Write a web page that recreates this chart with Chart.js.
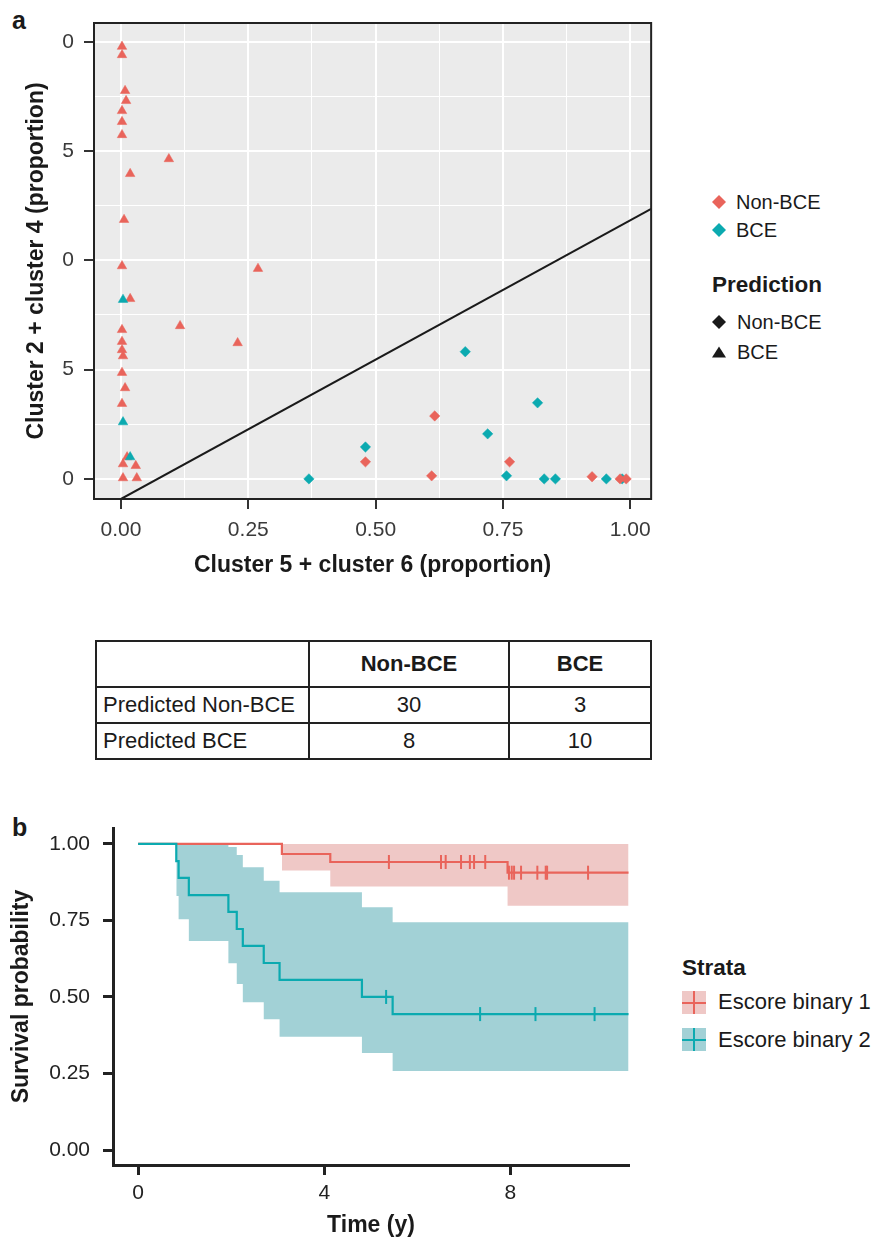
<!DOCTYPE html>
<html>
<head>
<meta charset="utf-8">
<script src="https://cdn.jsdelivr.net/npm/chart.js@4.4.1/dist/chart.umd.min.js"></script>
<style>
  body { margin: 0; background: #fff; font-family: "Liberation Sans", Arial, sans-serif; color: #1a1a1a; }
  #page { position: relative; width: 879px; height: 1239px; overflow: hidden; }
  .abs { position: absolute; white-space: nowrap; }
  .mid { transform: translateY(-50%); }
  .lab { font-size: 20px; }
  .ttl { font-size: 22.5px; font-weight: bold; }
  .panel { font-size: 25px; font-weight: bold; line-height: 25px; }
  #tbl { border-collapse: collapse; font-size: 22px; color: #1a1a1a; }
  #tbl td, #tbl th { border: 2px solid #222; padding: 0; }
  #tbl th { font-weight: bold; text-align: center; }
  .key { width: 24px; height: 23px; }
  .key .h { position: absolute; left: 0; right: 0; top: 10.5px; height: 2px; }
  .key .v { position: absolute; top: 0; bottom: 0; left: 11px; width: 2px; }
</style>
</head>
<body>
<div id="page">
  <div class="abs panel" style="left:12px;top:8px">a</div>
  <div class="abs" style="left:0;top:0"><canvas id="chartA" width="660" height="600"></canvas></div>

  <svg class="abs" style="left:711px;top:194px" width="16" height="16"><polygon points="8,1 15,8 8,15 1,8" fill="#E9645B"/></svg>
  <div class="abs lab mid" style="left:736px;top:202px">Non-BCE</div>
  <svg class="abs" style="left:711px;top:222px" width="16" height="16"><polygon points="8,1 15,8 8,15 1,8" fill="#0BAAB0"/></svg>
  <div class="abs lab mid" style="left:736px;top:230px">BCE</div>
  <div class="abs ttl mid" style="left:712px;top:285px">Prediction</div>
  <svg class="abs" style="left:711px;top:314px" width="16" height="16"><polygon points="8,1 15,8 8,15 1,8" fill="#1a1a1a"/></svg>
  <div class="abs lab mid" style="left:737px;top:322px">Non-BCE</div>
  <svg class="abs" style="left:711px;top:344px" width="16" height="16"><polygon points="8,2.5 15,13.5 1,13.5" fill="#1a1a1a"/></svg>
  <div class="abs lab mid" style="left:737px;top:352px">BCE</div>

  <table id="tbl" class="abs" style="left:95px;top:640px"></table>

  <div class="abs panel" style="left:12px;top:815px">b</div>
  <div class="abs" style="left:0;top:800px"><canvas id="chartB" width="660" height="439"></canvas></div>

  <div class="abs ttl mid" style="left:682px;top:968px">Strata</div>
  <div class="abs key" style="left:682px;top:991px;background:#EFC8C6"><div class="h" style="background:#E9645B"></div><div class="v" style="background:#E9645B"></div></div>
  <div class="abs mid" style="left:718px;top:1002px;font-size:22px">Escore binary 1</div>
  <div class="abs key" style="left:682px;top:1028px;background:#A2D1D6"><div class="h" style="background:#0BAAB0"></div><div class="v" style="background:#0BAAB0"></div></div>
  <div class="abs mid" style="left:718px;top:1040px;font-size:22px">Escore binary 2</div>
</div>

<script>
// ---- panel a: scatter ----
const xMajorA = [0, 0.25, 0.5, 0.75, 1];
const xLabelsA = ['0.00', '0.25', '0.50', '0.75', '1.00'];
const xMinorA = [0.125, 0.375, 0.625, 0.875];
const yMajorA = [0, 0.25, 0.5, 0.75, 1];
const yLabelsA = ['0', '5', '0', '5', '0'];
const yMinorA = [0.125, 0.375, 0.625, 0.875];

// triangles = predicted BCE, diamonds = predicted Non-BCE
const redTriX = [0.002, 0.002, 0.008, 0.010, 0.002, 0.002, 0.002, 0.094, 0.018, 0.006, 0.002, 0.269, 0.018, 0.116, 0.229, 0.002, 0.002, 0.002, 0.004, 0.002, 0.008, 0.002, 0.012, 0.004, 0.029, 0.004, 0.031];
const redTriY = [0.989, 0.970, 0.888, 0.865, 0.842, 0.817, 0.787, 0.732, 0.698, 0.593, 0.487, 0.481, 0.412, 0.350, 0.311, 0.341, 0.314, 0.295, 0.281, 0.243, 0.208, 0.172, 0.050, 0.034, 0.030, 0.002, 0.002];
const tealTriX = [0.004, 0.004, 0.018];
const tealTriY = [0.410, 0.130, 0.050];
const redDiaX = [0.480, 0.616, 0.610, 0.763, 0.925, 0.980, 0.992];
const redDiaY = [0.039, 0.144, 0.007, 0.039, 0.005, 0.000, 0.000];
const tealDiaX = [0.369, 0.480, 0.676, 0.720, 0.818, 0.757, 0.831, 0.853, 0.953, 0.984];
const tealDiaY = [0.000, 0.073, 0.291, 0.103, 0.174, 0.007, 0.000, 0.000, 0.000, 0.000];
const cutLineX = [0, 1.041];
const cutLineY = [-0.046, 0.618];

// ---- table ----
const tableCols = ['Non-BCE', 'BCE'];
const tableRows = ['Predicted Non-BCE', 'Predicted BCE'];
const tableValues = [[30, 3], [8, 10]];

// ---- panel b: survival ----
const tealTimes = [0, 0.82, 0.87, 1.09, 1.94, 2.12, 2.25, 2.70, 3.04, 4.81, 5.47, 10.54];
const tealSurv = [1, 0.944, 0.889, 0.833, 0.778, 0.722, 0.667, 0.611, 0.556, 0.5, 0.444, 0.444];
const tealBandTimes = [0.82, 0.87, 1.09, 1.94, 2.12, 2.25, 2.70, 3.04, 4.81, 5.47, 10.54];
const tealUpper = [1, 1, 1, 0.99, 0.964, 0.924, 0.88, 0.842, 0.793, 0.744, 0.744];
const tealLower = [0.83, 0.754, 0.683, 0.61, 0.542, 0.483, 0.427, 0.37, 0.317, 0.258, 0.258];
const tealCensor = [5.33, 7.35, 8.54, 9.81];

const redTimes = [0, 3.09, 4.13, 7.94, 10.54];
const redSurv = [1, 0.967, 0.941, 0.906, 0.906];
const redBandTimes = [3.09, 4.13, 7.94, 10.54];
const redUpper = [1, 1, 1, 1];
const redLower = [0.913, 0.861, 0.798, 0.798];
const redCensor = [5.39, 6.51, 6.61, 6.94, 7.13, 7.22, 7.46, 7.97, 8.03, 8.08, 8.23, 8.58, 8.76, 8.79, 9.67];

const yTicksB = [0, 0.25, 0.5, 0.75, 1];
const yLabelsB = ['0.00', '0.25', '0.50', '0.75', '1.00'];
const xTicksB = [0, 4, 8];
const xLabelsB = ['0', '4', '8'];

const RED = '#E9645B', TEAL = '#0BAAB0';
const RED_BAND = '#EFC8C6', TEAL_BAND = '#A2D1D6';

Chart.defaults.font.family = '"Liberation Sans", Arial, sans-serif';
Chart.defaults.animation = false;

function pts(xs, ys) { return xs.map((x, i) => ({ x: x, y: ys[i] })); }
function survAt(times, surv, t) {
  let s = surv[0];
  for (let i = 0; i < times.length; i++) if (times[i] <= t) s = surv[i];
  return s;
}
function setTicks(major, minor) {
  return function(scale) {
    scale.ticks = major.concat(minor).sort((a, b) => a - b)
      .map(v => ({ value: v, isMajor: major.includes(v) }));
  };
}
function tickLabel(major, labels) {
  return function(value) {
    const i = major.indexOf(value);
    return i >= 0 ? labels[i] : '';
  };
}

// table from arrays
(function() {
  const t = document.getElementById('tbl');
  let h = '<tr style="height:46px"><td style="width:211px"></td>';
  tableCols.forEach((c, i) => { h += '<th style="width:' + (i === 0 ? 198 : 140) + 'px">' + c + '</th>'; });
  h += '</tr>';
  tableRows.forEach((r, i) => {
    h += '<tr style="height:36px"><td style="padding-left:6px">' + r + '</td>';
    tableValues[i].forEach(v => { h += '<td style="text-align:center">' + v + '</td>'; });
    h += '</tr>';
  });
  t.innerHTML = h;
})();

const panelBg = {
  id: 'panelBg',
  beforeDraw(chart) {
    const a = chart.chartArea, ctx = chart.ctx;
    ctx.save();
    ctx.fillStyle = '#EBEBEB';
    ctx.fillRect(a.left, a.top, a.right - a.left, a.bottom - a.top);
    ctx.restore();
  },
  afterDraw(chart) {
    const a = chart.chartArea, ctx = chart.ctx;
    ctx.save();
    ctx.strokeStyle = '#222';
    ctx.lineWidth = 2;
    ctx.strokeRect(a.left, a.top, a.right - a.left, a.bottom - a.top);
    ctx.restore();
  }
};

function gridA() {
  return {
    color: '#ffffff',
    lineWidth: c => (c.tick && c.tick.isMajor ? 2 : 1),
    drawTicks: true,
    tickLength: 10,
    tickWidth: 2,
    tickColor: c => (c.tick && c.tick.isMajor ? '#333' : 'rgba(0,0,0,0)')
  };
}

new Chart(document.getElementById('chartA'), {
  type: 'scatter',
  data: {
    datasets: [
      { data: pts(cutLineX, cutLineY), showLine: true, borderColor: '#1a1a1a', borderWidth: 2, pointRadius: 0, order: 5 },
      { data: pts(redTriX, redTriY), pointStyle: 'triangle', pointRadius: 5.5, backgroundColor: RED, borderColor: RED, borderWidth: 0.5, order: 4 },
      { data: pts(tealTriX, tealTriY), pointStyle: 'triangle', pointRadius: 5.5, backgroundColor: TEAL, borderColor: TEAL, borderWidth: 0.5, order: 3 },
      { data: pts(tealDiaX, tealDiaY), pointStyle: 'rectRot', pointRadius: 5.2, backgroundColor: TEAL, borderColor: TEAL, borderWidth: 0.5, order: 2 },
      { data: pts(redDiaX, redDiaY), pointStyle: 'rectRot', pointRadius: 5.2, backgroundColor: RED, borderColor: RED, borderWidth: 0.5, order: 1 }
    ]
  },
  options: {
    responsive: false,
    layout: { padding: { top: 23, right: 8, left: 0, bottom: 0 } },
    plugins: { legend: { display: false }, tooltip: { enabled: false } },
    scales: {
      x: {
        type: 'linear', min: -0.053, max: 1.041,
        afterBuildTicks: setTicks(xMajorA, xMinorA),
        afterFit: s => { s.height = 101; },
        grid: gridA(),
        border: { display: false },
        ticks: { callback: tickLabel(xMajorA, xLabelsA), autoSkip: false, maxRotation: 0, padding: 9, color: '#3a3a3a', font: { size: 21 } },
        title: { display: true, text: 'Cluster 5 + cluster 6 (proportion)', color: '#1a1a1a', font: { size: 23, weight: 'bold' }, padding: { bottom: 21, top: 0 } }
      },
      y: {
        type: 'linear', min: -0.046, max: 1.043,
        afterBuildTicks: setTicks(yMajorA, yMinorA),
        afterFit: s => { s.width = 94; },
        grid: gridA(),
        border: { display: false },
        ticks: { callback: tickLabel(yMajorA, yLabelsA), autoSkip: false, padding: 10, color: '#3a3a3a', font: { size: 21 } },
        title: { display: true, text: 'Cluster 2 + cluster 4 (proportion)', color: '#1a1a1a', font: { size: 23, weight: 'bold' }, padding: { top: 23, bottom: 0 } }
      }
    }
  },
  plugins: [panelBg]
});

function band(times, vals, color, fill, order) {
  return { data: pts(times, vals), stepped: 'before', fill: fill, backgroundColor: color, borderColor: 'rgba(0,0,0,0)', borderWidth: 0, pointRadius: 0, order: order };
}
function curve(times, surv, color, order) {
  return { data: pts(times, surv), stepped: 'before', fill: false, borderColor: color, borderWidth: 2.2, pointRadius: 0, order: order };
}
function censor(cts, times, surv, color) {
  return { data: cts.map(t => ({ x: t, y: survAt(times, surv, t) })), showLine: false, pointStyle: 'line', rotation: 90, pointRadius: 7, borderColor: color, borderWidth: 2, order: 0 };
}

const axisB = { display: true, color: '#222', width: 3 };
const gridB = { drawOnChartArea: false, drawTicks: true, tickLength: 10, tickWidth: 3, tickColor: '#222' };

new Chart(document.getElementById('chartB'), {
  type: 'line',
  data: {
    datasets: [
      band(tealBandTimes, tealUpper, TEAL_BAND, '+1', 4),
      band(tealBandTimes, tealLower, TEAL_BAND, false, 4),
      band(redBandTimes, redUpper, RED_BAND, '+1', 3),
      band(redBandTimes, redLower, RED_BAND, false, 3),
      curve(redTimes, redSurv, RED, 2),
      curve(tealTimes, tealSurv, TEAL, 1),
      censor(redCensor, redTimes, redSurv, RED),
      censor(tealCensor, tealTimes, tealSurv, TEAL)
    ]
  },
  options: {
    responsive: false,
    layout: { padding: { top: 28, right: 31, left: 0, bottom: 0 } },
    plugins: { legend: { display: false }, tooltip: { enabled: false } },
    scales: {
      x: {
        type: 'linear', min: -0.54, max: 10.55,
        afterBuildTicks: setTicks(xTicksB, []),
        afterFit: s => { s.height = 74; },
        grid: gridB, border: axisB,
        ticks: { callback: tickLabel(xTicksB, xLabelsB), autoSkip: false, maxRotation: 0, padding: 6, color: '#222', font: { size: 21 } },
        title: { display: true, text: 'Time (y)', color: '#1a1a1a', font: { size: 23, weight: 'bold' }, padding: { bottom: 0, top: 0 } }
      },
      y: {
        type: 'linear', min: -0.049, max: 1.052,
        afterBuildTicks: setTicks(yTicksB, []),
        afterFit: s => { s.width = 113; },
        grid: gridB, border: axisB,
        ticks: { callback: tickLabel(yTicksB, yLabelsB), autoSkip: false, padding: 13, color: '#222', font: { size: 21 } },
        title: { display: true, text: 'Survival probability', color: '#1a1a1a', font: { size: 23, weight: 'bold' }, padding: { top: 8, bottom: 0 } }
      }
    }
  }
});
</script>
</body>
</html>
